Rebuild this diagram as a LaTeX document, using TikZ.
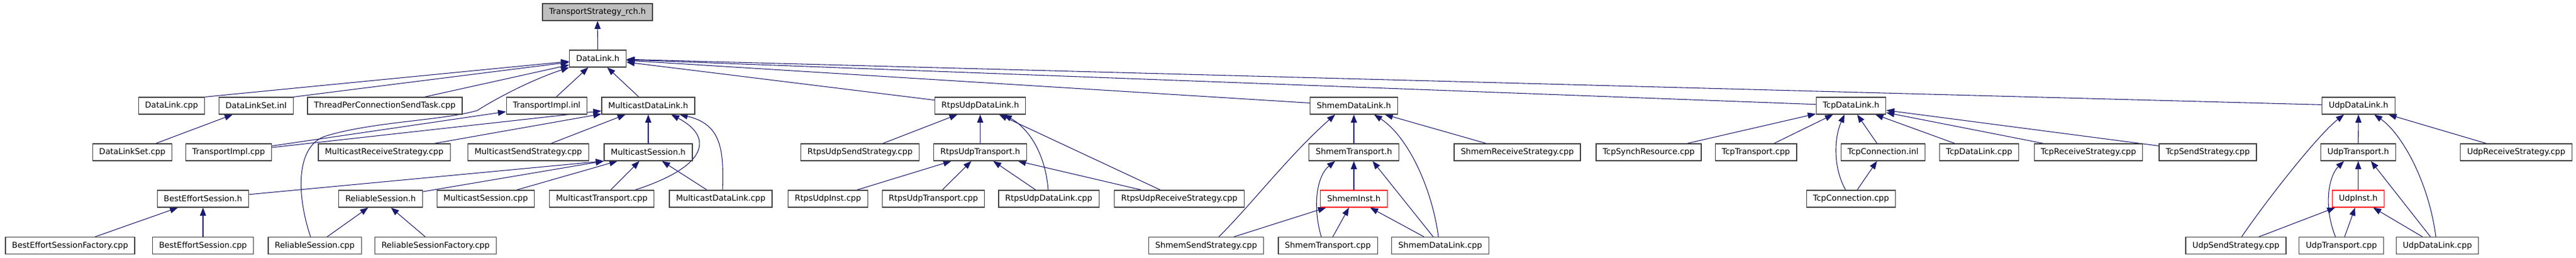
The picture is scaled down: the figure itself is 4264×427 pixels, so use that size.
\documentclass[tikz,border=0pt]{standalone}
\usepackage{fontspec}
\setmainfont{DejaVu Sans}
\usetikzlibrary{arrows.meta,calc,backgrounds}
\definecolor{edgeblue}{RGB}{25,25,112}
\definecolor{boxgray}{RGB}{64,64,64}

\begin{document}
\begin{tikzpicture}[x=0.75pt,y=-0.75pt,
		file/.style={draw=boxgray,line width=0.9pt,fill=white,minimum height=21pt,inner xsep=8.25pt,inner ysep=0pt,font=\fontsize{10}{12}\selectfont},
		root/.style={file,fill=gray!50},
		trunc/.style={file,draw=red},
		edge/.style={draw=edgeblue,line width=0.8pt,-{Triangle[length=10pt,width=7.5pt]}}]
			\useasboundingbox (0,0) rectangle (4264,427);
			% row 0 and 1
			\node[root] (rch) at (989,20) {TransportStrategy\_rch.h};
			\node[file] (dlh) at (989.5,97) {DataLink.h};
			% row 2
			\node[file] (dlcpp) at (284,175) {DataLink.cpp};
			\node[file] (dlsinl) at (424,175) {DataLinkSet.inl};
			\node[file] (tpcst) at (637,175) {ThreadPerConnectionSendTask.cpp};
			\node[file] (tiinl) at (905,175) {TransportImpl.inl};
			\node[file] (mdlh) at (1073,175) {MulticastDataLink.h};
			\node[file] (rudlh) at (1622.5,175) {RtpsUdpDataLink.h};
			\node[file] (sdlh) at (2241,175) {ShmemDataLink.h};
			\node[file] (tdlh) at (3064,175) {TcpDataLink.h};
			\node[file] (udlh) at (3904,175) {UdpDataLink.h};
			% row 3
			\node[file] (dlscpp) at (219,252) {DataLinkSet.cpp};
			\node[file] (ticpp) at (378.5,252) {TransportImpl.cpp};
			\node[file] (mrs) at (636,252) {MulticastReceiveStrategy.cpp};
			\node[file] (mss) at (874.5,252) {MulticastSendStrategy.cpp};
			\node[file] (msh) at (1073,252) {MulticastSession.h};
			\node[file] (russ) at (1423.5,252) {RtpsUdpSendStrategy.cpp};
			\node[file] (ruth) at (1622.5,252) {RtpsUdpTransport.h};
			\node[file] (sth) at (2241,252) {ShmemTransport.h};
			\node[file] (srs) at (2511.5,252) {ShmemReceiveStrategy.cpp};
			\node[file] (tsr) at (2729,252) {TcpSynchResource.cpp};
			\node[file] (ttcpp) at (2906.5,252) {TcpTransport.cpp};
			\node[file] (tcinl) at (3117,252) {TcpConnection.inl};
			\node[file] (tdlcpp) at (3276,252) {TcpDataLink.cpp};
			\node[file] (trs) at (3457,252) {TcpReceiveStrategy.cpp};
			\node[file] (tss) at (3654.5,252) {TcpSendStrategy.cpp};
			\node[file] (uth) at (3903.5,252) {UdpTransport.h};
			\node[file] (urs) at (4165,252) {UdpReceiveStrategy.cpp};
			% row 4
			\node[file] (besh) at (336,329) {BestEffortSession.h};
			\node[file] (rsh) at (630,329) {ReliableSession.h};
			\node[file] (mscpp) at (804,329) {MulticastSession.cpp};
			\node[file] (mtcpp) at (996,329) {MulticastTransport.cpp};
			\node[file] (mdlcpp) at (1193,329) {MulticastDataLink.cpp};
			\node[file] (ruicpp) at (1370.5,329) {RtpsUdpInst.cpp};
			\node[file] (rutcpp) at (1545,329) {RtpsUdpTransport.cpp};
			\node[file] (rudlcpp) at (1736,329) {RtpsUdpDataLink.cpp};
			\node[file] (rurs) at (1952,329) {RtpsUdpReceiveStrategy.cpp};
			\node[trunc] (sih) at (2241,329) {ShmemInst.h};
			\node[file] (tccpp) at (3064,329) {TcpConnection.cpp};
			\node[trunc] (uih) at (3903.5,329) {UdpInst.h};
			% row 5
			\node[file] (besf) at (116,406.5) {BestEffortSessionFactory.cpp};
			\node[file] (bescpp) at (336,406.5) {BestEffortSession.cpp};
			\node[file] (rscpp) at (521,406.5) {ReliableSession.cpp};
			\node[file] (rsf) at (721,406.5) {ReliableSessionFactory.cpp};
			\node[file] (sss) at (1996.5,406.5) {ShmemSendStrategy.cpp};
			\node[file] (stcpp) at (2198,406.5) {ShmemTransport.cpp};
			\node[file] (sdlcpp) at (2384,406.5) {ShmemDataLink.cpp};
			\node[file] (usscpp) at (3701,406.5) {UdpSendStrategy.cpp};
			\node[file] (utcpp) at (3875.7,406.5) {UdpTransport.cpp};
			\node[file] (udlcpp) at (4034.5,406.5) {UdpDataLink.cpp};
			\begin{pgfonlayer}{background}
			% straight includes
			\foreach \a/\b in {dlh/rch,tpcst/dlh,tiinl/dlh,mdlh/dlh,rudlh/dlh,sdlh/dlh,tdlh/dlh,udlh/dlh,
				dlscpp/dlsinl,ticpp/tiinl,ticpp/mdlh,mrs/mdlh,mss/mdlh,msh/mdlh,mscpp/msh,mtcpp/msh,mdlcpp/msh,
				besf/besh,bescpp/besh,rscpp/rsh,rsf/rsh,russ/rudlh,ruth/rudlh,rurs/rudlh,
				ruicpp/ruth,rutcpp/ruth,rudlcpp/ruth,rurs/ruth,sth/sdlh,srs/sdlh,sih/sth,sss/sih,stcpp/sih,sdlcpp/sih,
				tsr/tdlh,ttcpp/tdlh,tcinl/tdlh,tdlcpp/tdlh,trs/tdlh,tss/tdlh,tccpp/tcinl,
				uth/udlh,urs/udlh,uih/uth,usscpp/uih,utcpp/uih,udlcpp/uih}
				\draw[edge] (\a) -- (\b);
			\draw[edge] (dlcpp.north east) -- (dlh);
			\draw[edge] (dlsinl.north east) -- (dlh);
			\draw[edge] (besh) -- (msh.south west);
			\draw[edge] (rsh) -- (msh.south west);
			\draw[edge] (sdlcpp) -- ($(sth.south)+(31,0)$);
			\draw[edge] (udlcpp) -- ($(uth.south)+(21,0)$);
			% curved includes
			\draw[edge] ($(rscpp.north)+(-7,0)$) .. controls +(-24,-72) and +(-50,15) .. ($(rscpp.north)+(19,-167)$)
				.. controls +(80,-24) and +(-60,17) .. ($(rscpp.north)+(269,-209)$)
				.. controls +(20,-13) and +(-72,24) .. (dlh.south west);
			\draw[edge] ($(mtcpp.north)+(55,0)$) .. controls +(124,-40) and +(69,36) .. ($(mdlh.south)+(38,0)$);
			\draw[edge] ($(mdlcpp.north)+(3,0)$) .. controls +(2,-65) and +(70,16) .. ($(mdlh.south)+(52,0)$);
			\draw[edge] ($(rudlcpp.north)+(-1,0)$) .. controls +(-5,-65) and +(38,21) .. ($(rudlh.south)+(39,0)$);
			\draw[edge] ($(sss.north)+(21,0)$) .. controls +(52.5,-52) and +(-75,66) .. ($(sdlh.south)+(-31,0)$);
			\draw[edge] ($(sdlcpp.north)+(-3,0)$) .. controls +(-11,-82) and +(55.5,36) .. ($(sdlh.south)+(33.5,0)$);
			\draw[edge] ($(stcpp.north)+(-11,0)$) .. controls +(-15,-52) and +(-30,24) .. ($(sth.south)+(-31,0)$);
			\draw[edge] ($(tccpp.north)+(-9,0)$) .. controls +(-20,-35) and +(-18,41) .. ($(tdlh.south)+(-11,0)$);
			\draw[edge] ($(usscpp.north)+(9.5,0)$) .. controls +(49.5,-72) and +(-40,31) .. ($(udlh.south)+(-24,0)$);
			\draw[edge] ($(udlcpp.north)+(-2.5,0)$) .. controls +(-12,-92) and +(45,31) .. ($(udlh.south)+(26,0)$);
			\draw[edge] ($(utcpp.north)+(-10,0)$) .. controls +(-20.5,-52) and +(-25,24) .. ($(uth.south)+(-23.5,0)$);
			\end{pgfonlayer}
		\end{tikzpicture}
\end{document}
